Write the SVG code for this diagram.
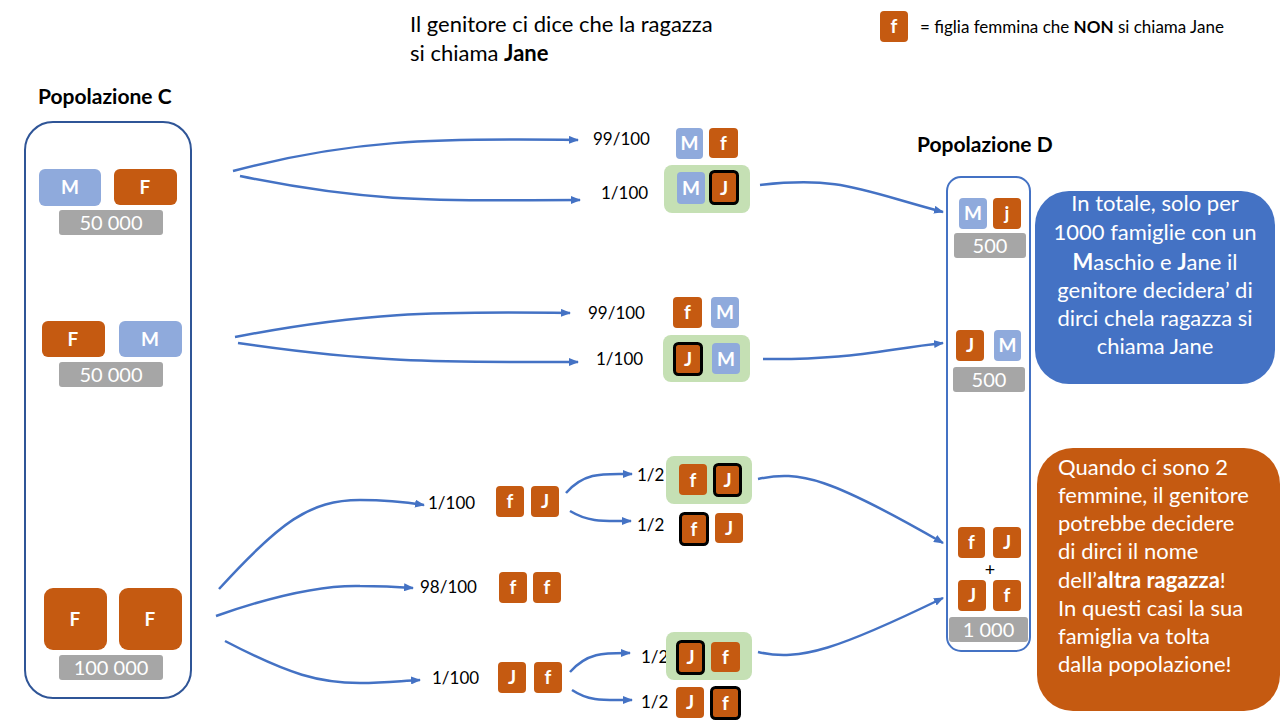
<svg xmlns="http://www.w3.org/2000/svg" width="1280" height="720" viewBox="0 0 1280 720">
<defs>
<marker id="ah" markerWidth="10" markerHeight="8" refX="9" refY="4" orient="auto" markerUnits="userSpaceOnUse">
<path d="M0,0 L10,4 L0,8 Z" fill="#4472C4"/>
</marker>
<style>
text{font-family:Lato,"Liberation Sans",sans-serif}
.m{fill:#8FAADC}
.o{fill:#C55A11}
.ob{fill:#C55A11;stroke:#000;stroke-width:3}
.g{fill:#A6A6A6}
.gr{fill:#C5E0B4}
.tt{fill:#fff;font-weight:bold;font-size:19px;text-anchor:middle}
.num{fill:#fff;font-size:20px;text-anchor:middle}
.lbl{fill:#000;font-size:17px}
.ttl{fill:#000;font-size:21px;font-weight:bold}
.con{fill:none;stroke:#4472C4;stroke-width:2.5;marker-end:url(#ah)}
.pop{fill:none;stroke:#2F5597;stroke-width:2}
.call{fill:#fff;font-size:22px}
</style>
</defs>
<rect width="1280" height="720" fill="#fff"/>

<g id="header">
<text x="410" y="32" font-size="22">Il genitore ci dice che la ragazza</text>
<text x="410" y="61" font-size="22">si chiama <tspan font-weight="bold">Jane</tspan></text>
</g>
<g id="legend">
<rect x="880" y="11" width="28" height="31" rx="4" class="o"/>
<text x="894" y="33" class="tt" font-size="17">f</text>
<text x="920" y="33" font-size="17">= figlia femmina che <tspan font-weight="bold">NON</tspan> si chiama Jane</text>
</g>

<g id="popC">
<text x="38" y="104" class="ttl">Popolazione C</text>
<rect x="25" y="122" width="166" height="576" rx="28" class="pop"/>
</g>
<g id="c1">
<rect x="39" y="169" width="62" height="37" rx="6" class="m"/><text x="70" y="194" class="tt">M</text>
<rect x="114" y="169" width="63" height="36" rx="6" class="o"/><text x="145" y="194" class="tt">F</text>
<rect x="59" y="210" width="104" height="25" rx="3" class="g"/><text x="111" y="230" class="num">50 000</text>
</g>
<g id="c2">
<rect x="42" y="321" width="63" height="36" rx="6" class="o"/><text x="73" y="346" class="tt">F</text>
<rect x="119" y="321" width="63" height="36" rx="6" class="m"/><text x="150" y="346" class="tt">M</text>
<rect x="59" y="362" width="104" height="25" rx="3" class="g"/><text x="111" y="382" class="num">50 000</text>
</g>
<g id="c3">
<rect x="44" y="588" width="63" height="62" rx="9" class="o"/><text x="75" y="626" class="tt">F</text>
<rect x="119" y="588" width="63" height="62" rx="9" class="o"/><text x="150" y="626" class="tt">F</text>
<rect x="59" y="655" width="104" height="25" rx="3" class="g"/><text x="111" y="675" class="num">100 000</text>
</g>

<g id="connectors">
<path class="con" d="M233,171 C350,140 430,138 578,140"/>
<path class="con" d="M240,176 C380,205 450,200 580,200"/>
<path class="con" d="M235,337 C360,313 430,311 570,313"/>
<path class="con" d="M238,343 C380,364 450,362 578,362"/>
<path class="con" d="M760,185 C840,176 860,190 943,212"/>
<path class="con" d="M763,359 C850,360 880,350 943,343"/>
<path class="con" d="M219,589 C280,522 310,500 360,500 C390,500 405,502 424,505"/>
<path class="con" d="M216,616 C270,597 320,585 360,586 C385,586 400,587 413,588"/>
<path class="con" d="M225,641 C290,675 320,683 360,683 C385,683 400,681 420,680"/>
<path class="con" d="M566,493 C585,471 605,474 632,474"/>
<path class="con" d="M570,511 C590,523 605,521 631,521"/>
<path class="con" d="M570,672 C588,652 605,653 630,653"/>
<path class="con" d="M572,690 C590,702 605,700 632,700"/>
<path class="con" d="M758,479 C800,470 830,478 943,543"/>
<path class="con" d="M758,652 C800,662 840,648 943,598"/>
</g>

<g id="labels">
<text x="593" y="145" class="lbl">99/100</text>
<text x="601" y="199" class="lbl">1/100</text>
<text x="588" y="319" class="lbl">99/100</text>
<text x="596" y="365" class="lbl">1/100</text>
<text x="428" y="509" class="lbl">1/100</text>
<text x="420" y="593" class="lbl">98/100</text>
<text x="432" y="684" class="lbl">1/100</text>
<text x="637" y="481" class="lbl">1/2</text>
<text x="637" y="531" class="lbl">1/2</text>
<text x="641" y="663" class="lbl">1/2</text>
<text x="641" y="708" class="lbl">1/2</text>
</g>

<g id="r1a">
<rect x="676" y="128" width="27" height="31" rx="4" class="m"/><text x="689.5" y="150" class="tt">M</text>
<rect x="709" y="128" width="29" height="30" rx="4" class="o"/><text x="723.5" y="150" class="tt">f</text>
</g>
<g id="r1b">
<rect x="664" y="165" width="86" height="48" rx="8" class="gr"/>
<rect x="677" y="172" width="28" height="32" rx="4" class="m"/><text x="691" y="195" class="tt">M</text>
<rect x="710.5" y="171.5" width="27" height="32" rx="4" class="ob"/><text x="724" y="195" class="tt">J</text>
</g>
<g id="r2a">
<rect x="673" y="297" width="29" height="31" rx="4" class="o"/><text x="687.5" y="319" class="tt">f</text>
<rect x="711" y="297" width="28" height="31" rx="4" class="m"/><text x="725" y="319" class="tt">M</text>
</g>
<g id="r2b">
<rect x="663" y="335" width="87" height="47" rx="8" class="gr"/>
<rect x="674.5" y="343.5" width="27" height="31" rx="4" class="ob"/><text x="688" y="366" class="tt">J</text>
<rect x="712" y="343" width="28" height="31" rx="4" class="m"/><text x="726" y="366" class="tt">M</text>
</g>

<g id="r3">
<rect x="496" y="486" width="28" height="31" rx="4" class="o"/><text x="510" y="508" class="tt">f</text>
<rect x="531" y="486" width="28" height="31" rx="4" class="o"/><text x="545" y="508" class="tt">J</text>
</g>
<g id="r3a">
<rect x="666" y="456" width="86" height="48" rx="8" class="gr"/>
<rect x="679" y="464" width="28" height="31" rx="4" class="o"/><text x="693" y="487" class="tt">f</text>
<rect x="714.5" y="464.5" width="26" height="31" rx="4" class="ob"/><text x="727.5" y="487" class="tt">J</text>
</g>
<g id="r3b">
<rect x="680.5" y="513.5" width="27" height="31" rx="4" class="ob"/><text x="694" y="536" class="tt">f</text>
<rect x="715" y="513" width="28" height="30" rx="4" class="o"/><text x="729" y="535" class="tt">J</text>
</g>
<g id="r4">
<rect x="499" y="572" width="28" height="31" rx="4" class="o"/><text x="513" y="594" class="tt">f</text>
<rect x="533" y="572" width="28" height="31" rx="4" class="o"/><text x="547" y="594" class="tt">f</text>
</g>
<g id="r5">
<rect x="498" y="662" width="28" height="31" rx="4" class="o"/><text x="512" y="684" class="tt">J</text>
<rect x="534" y="662" width="28" height="31" rx="4" class="o"/><text x="548" y="684" class="tt">f</text>
</g>
<g id="r5a">
<rect x="666" y="632" width="86" height="48" rx="8" class="gr"/>
<rect x="677.5" y="641.5" width="26" height="32" rx="4" class="ob"/><text x="690.5" y="664" class="tt">J</text>
<rect x="711" y="642" width="29" height="30" rx="4" class="o"/><text x="725.5" y="664" class="tt">f</text>
</g>
<g id="r5b">
<rect x="676" y="687" width="28" height="31" rx="4" class="o"/><text x="690" y="709" class="tt">J</text>
<rect x="711.5" y="687.5" width="28" height="31" rx="4" class="ob"/><text x="725.5" y="710" class="tt">f</text>
</g>

<g id="popD">
<text x="917" y="152" class="ttl">Popolazione D</text>
<rect x="947" y="177" width="83" height="474" rx="14" fill="none" stroke="#4472C4" stroke-width="2"/>
</g>
<g id="d1">
<rect x="959" y="198" width="28" height="31" rx="4" class="m"/><text x="973" y="220" class="tt">M</text>
<rect x="993" y="198" width="28" height="31" rx="4" class="o"/><text x="1007" y="220" class="tt">j</text>
<rect x="954" y="233" width="72" height="25" rx="3" class="g"/><text x="990" y="253" class="num">500</text>
</g>
<g id="d2">
<rect x="956" y="330" width="28" height="31" rx="4" class="o"/><text x="970" y="352" class="tt">J</text>
<rect x="994" y="330" width="27" height="31" rx="4" class="m"/><text x="1007.5" y="352" class="tt">M</text>
<rect x="953" y="367" width="72" height="25" rx="3" class="g"/><text x="989" y="387" class="num">500</text>
</g>
<g id="d3">
<rect x="958" y="527" width="27" height="31" rx="4" class="o"/><text x="971.5" y="549" class="tt">f</text>
<rect x="993" y="527" width="28" height="31" rx="4" class="o"/><text x="1007" y="549" class="tt">J</text>
<text x="990" y="576" font-size="18" text-anchor="middle">+</text>
<rect x="958" y="580" width="28" height="31" rx="4" class="o"/><text x="972" y="602" class="tt">J</text>
<rect x="993" y="580" width="28" height="31" rx="4" class="o"/><text x="1007" y="602" class="tt">f</text>
<rect x="949" y="617" width="79" height="25" rx="3" class="g"/><text x="988.5" y="637" class="num">1 000</text>
</g>

<g id="callout-blue">
<rect x="1035" y="191" width="240" height="193" rx="34" fill="#4472C4"/>
<g class="call" text-anchor="middle">
<text x="1155" y="211">In totale, solo per</text>
<text x="1155" y="240">1000 famiglie con un</text>
<text x="1155" y="270"><tspan font-weight="bold">M</tspan>aschio e <tspan font-weight="bold">J</tspan>ane il</text>
<text x="1155" y="298">genitore decidera’ di</text>
<text x="1155" y="326">dirci chela ragazza si</text>
<text x="1155" y="354">chiama Jane</text>
</g>
</g>
<g id="callout-orange">
<rect x="1037" y="448" width="243" height="263" rx="36" fill="#C55A11"/>
<g class="call">
<text x="1058" y="475">Quando ci sono 2</text>
<text x="1058" y="503">femmine, il genitore</text>
<text x="1058" y="531">potrebbe decidere</text>
<text x="1058" y="559">di dirci il nome</text>
<text x="1058" y="588">dell’<tspan font-weight="bold">altra ragazza</tspan>!</text>
<text x="1058" y="616">In questi casi la sua</text>
<text x="1058" y="644">famiglia va tolta</text>
<text x="1058" y="672">dalla popolazione!</text>
</g>
</g>
</svg>
